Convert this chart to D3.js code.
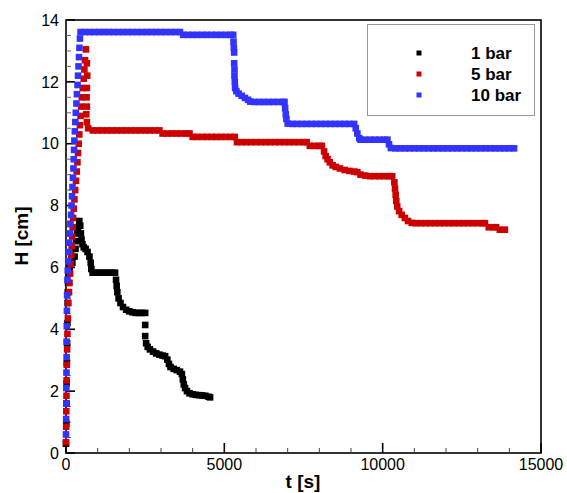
<!DOCTYPE html>
<html><head><meta charset="utf-8">
<script src="https://cdn.jsdelivr.net/npm/d3@7"></script>
<style>html,body{margin:0;padding:0;background:#fff;}svg{display:block;font-family:"Liberation Sans",Arial,sans-serif;}</style>
</head><body><svg id="c" width="567" height="493"></svg>
<script>
const seriesNames = ["1 bar", "5 bar", "10 bar"];
const seriesColors = ["#000000", "#cc0000", "#3333ff"];
const xTickLabels = [0, 5000, 10000, 15000];
const yTickLabels = [0, 2, 4, 6, 8, 10, 12, 14];

// 1 bar : [t (s), H (cm)]
const bar1 = [[0,0.3],[10,0.95],[15,1.6],[20,2.25],[25,2.9],[35,3.55],[45,4.2],[50,4.85],[55,5.2],[65,5.5],[80,5.8],[120,6.0],[200,6.15],[270,6.35],[300,6.6],[320,6.85],[350,7.1],[380,7.3],[420,7.5],[450,7.35],[470,7.1],[490,6.9],[520,6.75],[560,6.65],[620,6.6],[680,6.5],[740,6.35],[780,6.15],[800,5.95],[840,5.83],
[950,5.83],[1050,5.83],[1150,5.83],[1250,5.83],[1350,5.83],[1450,5.83],[1550,5.83],
[1580,5.6],[1600,5.4],[1620,5.2],[1660,5.0],[1720,4.85],[1800,4.72],[1900,4.63],[2000,4.58],[2100,4.55],[2200,4.53],[2300,4.53],[2400,4.53],[2500,4.53],
[2500,4.14],[2500,3.78],[2530,3.55],[2580,3.43],[2650,3.35],[2750,3.28],[2850,3.22],[2950,3.18],[3050,3.15],[3130,3.13],[3200,3.02],[3250,2.88],[3300,2.78],[3400,2.72],[3500,2.68],[3600,2.63],[3660,2.55],[3690,2.38],[3720,2.22],[3760,2.1],[3820,2.0],[3900,1.93],[4000,1.9],[4100,1.88],[4200,1.87],[4300,1.86],[4400,1.85],[4500,1.82],[4550,1.8]];

// 5 bar
const bar5 = [[0,0.35],[5,0.85],[10,1.35],[15,1.85],[20,2.35],[25,2.85],[35,3.35],[45,3.85],[60,4.35],[75,4.85],[95,5.2],[110,5.5],[130,5.8],[150,6.1],[165,6.4],[180,6.7],[195,7.0],[210,7.3],[225,7.6],[245,7.9],[265,8.2],[290,8.5],[315,8.8],[340,9.1],[360,9.4],[380,9.7],[400,10.0],[420,10.3],[440,10.6],[460,10.9],[480,11.2],[500,11.5],[530,11.8],[560,12.1],[580,12.4],[600,12.7],[630,13.05],
[660,12.6],[670,12.2],[660,11.8],[650,11.5],[660,11.2],[640,10.95],[660,10.7],[700,10.5],
[850,10.43],[1000,10.43],[1150,10.43],[1300,10.43],[1450,10.43],[1600,10.43],[1750,10.43],[1900,10.43],[2050,10.43],[2200,10.43],[2350,10.43],[2500,10.43],[2650,10.43],[2800,10.43],[2950,10.43],
[3050,10.33],[3200,10.33],[3350,10.33],[3500,10.33],[3650,10.33],[3800,10.33],[3900,10.33],
[4000,10.22],[4150,10.22],[4300,10.22],[4450,10.22],[4600,10.22],[4750,10.22],[4900,10.22],[5050,10.22],[5200,10.22],[5330,10.22],
[5400,10.05],[5550,10.05],[5700,10.05],[5850,10.05],[6000,10.05],[6150,10.05],[6300,10.05],[6450,10.05],[6600,10.05],[6750,10.05],[6900,10.05],[7050,10.05],[7200,10.05],[7350,10.05],[7500,10.05],[7600,10.05],
[7700,9.93],[7850,9.93],[8000,9.93],[8080,9.93],
[8150,9.75],[8200,9.6],[8260,9.5],[8330,9.4],[8420,9.3],[8520,9.25],[8650,9.2],[8800,9.15],[8950,9.12],[9100,9.1],[9200,9.08],[9300,9.0],[9450,8.97],[9600,8.95],[9750,8.95],[9900,8.95],[10050,8.95],[10200,8.95],[10300,8.95],
[10370,8.75],[10390,8.55],[10410,8.35],[10430,8.15],[10460,7.97],[10520,7.82],[10600,7.7],[10700,7.6],[10800,7.5],[10920,7.44],
[11050,7.43],[11200,7.43],[11350,7.43],[11500,7.43],[11650,7.43],[11800,7.43],[11950,7.43],[12100,7.43],[12250,7.43],[12400,7.43],[12550,7.43],[12700,7.43],[12850,7.43],[13000,7.43],[13150,7.43],[13230,7.43],
[13350,7.3],[13500,7.3],[13580,7.3],[13700,7.22],[13860,7.22]];

// 10 bar
const bar10 = [[0,0.6],[5,1.1],[10,1.6],[10,2.1],[15,2.6],[20,3.1],[20,3.6],[25,4.1],[30,4.6],[35,5.1],[45,5.6],[55,5.9],[70,6.2],[85,6.5],[100,6.8],[120,7.1],[140,7.4],[160,7.7],[175,8.0],[190,8.3],[205,8.6],[220,8.9],[235,9.2],[245,9.5],[255,9.8],[265,10.1],[280,10.4],[295,10.7],[310,11.0],[330,11.3],[345,11.6],[365,11.9],[380,12.2],[395,12.5],[410,12.8],[425,13.1],[440,13.4],[460,13.61],
[600,13.61],[750,13.61],[900,13.61],[1050,13.61],[1200,13.61],[1350,13.61],[1500,13.61],[1650,13.61],[1800,13.61],[1950,13.61],[2100,13.61],[2250,13.61],[2400,13.61],[2550,13.61],[2700,13.61],[2850,13.61],[3000,13.61],[3150,13.61],[3300,13.61],[3450,13.61],[3600,13.61],
[3700,13.52],[3850,13.52],[4000,13.52],[4150,13.52],[4300,13.52],[4450,13.52],[4600,13.52],[4750,13.52],[4900,13.52],[5050,13.52],[5200,13.52],[5280,13.52],
[5290,13.3],[5300,13.1],[5310,12.95],[5310,12.6],[5320,12.4],[5320,12.2],[5330,12.0],[5340,11.8],[5380,11.7],[5450,11.62],[5550,11.55],[5650,11.48],[5750,11.42],[5820,11.36],
[5950,11.35],[6100,11.35],[6250,11.35],[6400,11.35],[6550,11.35],[6700,11.35],[6850,11.35],[6900,11.35],
[6920,11.15],[6940,10.95],[6960,10.8],[7000,10.65],
[7150,10.64],[7300,10.64],[7450,10.64],[7600,10.64],[7750,10.64],[7900,10.64],[8050,10.64],[8200,10.64],[8350,10.64],[8500,10.64],[8650,10.64],[8800,10.64],[8950,10.64],[9100,10.64],
[9150,10.5],[9200,10.33],[9260,10.18],[9300,10.13],
[9450,10.13],[9600,10.13],[9750,10.13],[9900,10.13],[10050,10.13],[10150,10.13],
[10200,9.98],[10260,9.86],
[10400,9.85],[10550,9.85],[10700,9.85],[10850,9.85],[11000,9.85],[11150,9.85],[11300,9.85],[11450,9.85],[11600,9.85],[11750,9.85],[11900,9.85],[12050,9.85],[12200,9.85],[12350,9.85],[12500,9.85],[12650,9.85],[12800,9.85],[12950,9.85],[13100,9.85],[13250,9.85],[13400,9.85],[13550,9.85],[13700,9.85],[13850,9.85],[14000,9.85],[14150,9.85]];

const seriesData = [bar1, bar5, bar10];

const svg = d3.select("#c");
const x = d3.scaleLinear().domain([0, 15000]).range([66, 541]);
const y = d3.scaleLinear().domain([0, 14]).range([453, 20]);

// frame
svg.append("rect").attr("x", 66).attr("y", 20).attr("width", 475).attr("height", 433)
  .attr("fill", "none").attr("stroke", "#000").attr("stroke-width", 1.6);

// minor ticks
const xMinor = d3.range(0, 15001, 1000).filter(v => v % 5000 !== 0);
const yMinor = d3.range(0, 14.01, 0.5).filter(v => Math.abs(v % 2) > 1e-6);
svg.append("g").selectAll("line").data(xMinor).join("line")
  .attr("x1", d => x(d)).attr("x2", d => x(d)).attr("y1", 453).attr("y2", 448)
  .attr("stroke", "#444").attr("stroke-width", 1);
svg.append("g").selectAll("line").data(yMinor).join("line")
  .attr("y1", d => y(d)).attr("y2", d => y(d)).attr("x1", 66).attr("x2", 71)
  .attr("stroke", "#666").attr("stroke-width", 1);

// major ticks
svg.append("g").selectAll("line").data(xTickLabels).join("line")
  .attr("x1", d => x(d)).attr("x2", d => x(d)).attr("y1", 453).attr("y2", 443)
  .attr("stroke", "#000").attr("stroke-width", 1.6);
svg.append("g").selectAll("line").data(yTickLabels).join("line")
  .attr("y1", d => y(d)).attr("y2", d => y(d)).attr("x1", 66).attr("x2", 75)
  .attr("stroke", "#000").attr("stroke-width", 1.6);

// tick labels
svg.append("g").selectAll("text").data(xTickLabels).join("text")
  .attr("x", d => x(d)).attr("y", 470).attr("text-anchor", "middle")
  .attr("font-size", 16).attr("fill", "#000").text(d => d);
svg.append("g").selectAll("text").data(yTickLabels).join("text")
  .attr("x", 59).attr("y", d => y(d)).attr("dy", "0.36em").attr("text-anchor", "end")
  .attr("font-size", 16).attr("fill", "#000").text(d => d);

// axis titles
svg.append("text").attr("x", 303).attr("y", 488).attr("text-anchor", "middle")
  .attr("font-size", 19).attr("font-weight", "bold").text("t [s]");
svg.append("text").attr("transform", "translate(28,236) rotate(-90)").attr("text-anchor", "middle")
  .attr("font-size", 19).attr("font-weight", "bold").text("H [cm]");

// markers: zone order 1 bar, 5 bar, 10 bar
const ms = 6.6;
[0, 1, 2].forEach(i => {
  svg.append("g").selectAll("rect").data(seriesData[i]).join("rect")
    .attr("x", d => x(d[0]) - ms / 2).attr("y", d => y(d[1]) - ms / 2)
    .attr("width", ms).attr("height", ms).attr("fill", seriesColors[i]);
});

// legend
const lg = svg.append("g");
lg.append("rect").attr("x", 367.5).attr("y", 24.5).attr("width", 167).attr("height", 91)
  .attr("fill", "#fff").attr("stroke", "#999").attr("stroke-width", 1);
seriesNames.forEach((n, i) => {
  const cy = 53 + i * 21;
  lg.append("rect").attr("x", 416.5).attr("y", cy - 2.5).attr("width", 5).attr("height", 5).attr("fill", seriesColors[i]);
  lg.append("text").attr("x", 471).attr("y", cy).attr("dy", "0.36em").attr("font-size", 17)
    .attr("font-weight", "bold").text(n);
});
</script></body></html>
